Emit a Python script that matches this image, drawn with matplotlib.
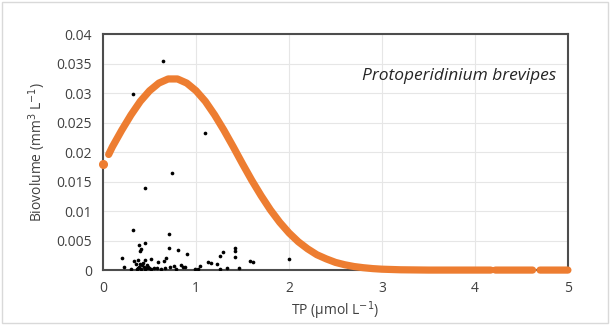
import numpy as np
import matplotlib
matplotlib.use("Agg")
import matplotlib.pyplot as plt
from matplotlib.patches import Rectangle

# Observed data (TP, biovolume)
obs_x = [0.645, 0.32, 1.10, 0.74, 0.45, 0.319, 0.713, 0.39, 0.45, 0.41, 0.40, 0.713,
         0.81, 0.905, 0.20, 0.33, 0.38, 0.45, 0.51, 0.59, 0.65, 0.68, 0.23, 0.40,
         0.42, 0.44, 0.38, 0.46, 0.36, 0.47, 0.43, 0.41, 0.49, 0.52, 0.39, 0.45,
         0.58, 0.67, 0.72, 0.76, 0.84, 0.86, 0.88, 1.04, 1.02, 1.13, 1.16, 1.23,
         1.26, 1.29, 1.26, 1.33, 1.42, 1.42, 1.42, 1.46, 1.58, 1.61, 2.00, 0.30,
         0.55, 0.62, 0.78, 0.99, 0.35, 0.48]
obs_y = [0.0354, 0.0298, 0.0232, 0.0164, 0.0139, 0.0068, 0.0062, 0.0042, 0.0046, 0.0036,
         0.0033, 0.0037, 0.0034, 0.0027, 0.0021, 0.0016, 0.0017, 0.0017, 0.0019, 0.0014,
         0.0016, 0.0020, 0.0005, 0.0010, 0.0008, 0.0006, 0.0003, 0.0004, 0.0002, 0.0009,
         0.0012, 0.0001, 0.0003, 0.0002, 0.0006, 0.0001, 0.0003, 0.0003, 0.0006, 0.0007,
         0.0008, 0.0005, 0.0005, 0.0007, 0.0002, 0.0014, 0.0012, 0.0010, 0.0024, 0.0031,
         0.0002, 0.0003, 0.0037, 0.0032, 0.0022, 0.0003, 0.0016, 0.0014, 0.0018, 0.0001,
         0.0004, 0.0002, 0.0001, 0.0001, 0.0010, 0.0005]

# Fitted curve values (NaN = gap in the predicted points)
fit_x = [0.0, 0.02, 0.06, 0.1, 0.2, 0.3, 0.4, 0.5, 0.6, 0.7, 0.8, 0.9, 1.0, 1.1, 1.2, 1.3, 1.4,
         1.5, 1.6, 1.7, 1.8, 1.9, 2.0, 2.1, 2.2, 2.3, 2.4, 2.5, 2.6, 2.7, 2.8, 2.9, 3.0,
         3.2, 3.5, 4.0, 4.17, 4.19, 4.22, 4.5, 4.62, 4.66, 4.70, 5.0]
fit_y = [0.0180, np.nan, 0.0196, 0.0209, 0.0237, 0.0263, 0.0286, 0.0304, 0.0317, 0.0324, 0.0324,
         0.0317, 0.0304, 0.0286, 0.0263, 0.0237, 0.0209, 0.0180, 0.0152, 0.0126, 0.0102,
         0.0081, 0.0063, 0.0048, 0.0036, 0.0026, 0.0019, 0.0013, 0.0009, 0.0006, 0.0004,
         0.00025, 0.00015, 0.00005, 0.0, 0.0, 0.0, np.nan, 0.0, 0.0, 0.0, np.nan, 0.0, 0.0]

xticks = [0, 1, 2, 3, 4, 5]
yticks = [0, 0.005, 0.01, 0.015, 0.02, 0.025, 0.03, 0.035, 0.04]
ytick_labels = ["0", "0.005", "0.01", "0.015", "0.02", "0.025", "0.03", "0.035", "0.04"]

plt.rcParams['font.family'] = ['Open Sans', 'DejaVu Sans']
fig = plt.figure(figsize=(6.10, 3.25), dpi=100)
fig.patches.append(Rectangle((0.003, 0.005), 0.994, 0.99, transform=fig.transFigure,
                             fill=False, edgecolor='#d9d9d9', linewidth=1.0))
ax = fig.add_axes([0.169, 0.169, 0.762, 0.726])

ax.plot(fit_x, fit_y, color='#ED7D31', linewidth=5.2, solid_capstyle='round',
        solid_joinstyle='round', zorder=3, clip_on=False)
ax.plot([fit_x[0]], [fit_y[0]], 'o', color='#ED7D31', markersize=5.5, zorder=3, clip_on=False)
ax.scatter(obs_x, obs_y, s=7, color='black', zorder=4, linewidths=0)

ax.set_xlim(0, 5)
ax.set_ylim(0, 0.04)
ax.set_xticks(xticks)
ax.set_yticks(yticks)
ax.set_yticklabels(ytick_labels)
ax.grid(True, color='#e6e6e6', linewidth=0.8)
ax.set_axisbelow(True)
for s in ax.spines.values():
    s.set_color('#4d4d4d')
    s.set_linewidth(1.5)
ax.tick_params(length=0, labelsize=10, colors='#404040', pad=8)
ax.set_xlabel("TP (µmol L$^{-1}$)", fontsize=10, color='#404040', labelpad=2)
ax.set_ylabel("Biovolume (mm$^{3}$ L$^{-1}$)", fontsize=10, color='#404040', labelpad=6)
ax.text(4.87, 0.0329, "Protoperidinium brevipes", style='italic', fontsize=12.5,
        ha='right', va='center', color='#262626')

fig.savefig("out.png", dpi=100)
